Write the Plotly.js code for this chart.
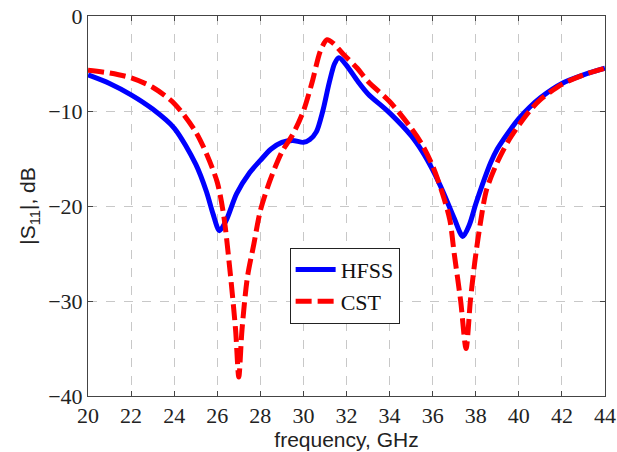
<!DOCTYPE html>
<html><head><meta charset="utf-8">
<script src="https://cdn.plot.ly/plotly-3.0.1.min.js"></script>
<style>html,body{margin:0;padding:0;background:#fff;}#chart{width:617px;height:452px;}</style>
</head><body><div id="chart"></div>
<script>
const hfssFreq = [20,21,22,23,24,25,25.5,25.8,26.1,26.4,26.9,27.5,28,28.5,29,29.5,30,30.3,30.6,30.9,31.2,31.45,31.65,32,32.5,33,34,35,35.5,36,36.5,37,37.4,37.7,38,38.3,38.7,39,39.5,40,40.5,41,42,43,44];
const hfssS11 = [-6.2,-7.1,-8.3,-9.8,-11.8,-15.6,-18.5,-20.8,-22.6,-21.6,-18.7,-16.5,-15.2,-14.0,-13.3,-13.1,-13.3,-13.0,-12.2,-10,-7,-5,-4.4,-5.2,-6.8,-8.2,-10.2,-12.6,-14.2,-16.2,-18.6,-21.3,-23.2,-22,-19.8,-17.8,-15.4,-14.0,-12.3,-10.8,-9.6,-8.6,-7.1,-6.2,-5.5];
const cstFreq = [20,21,22,23,24,25,25.5,26,26.3,26.6,26.85,27.0,27.15,27.4,27.7,28,28.45,29,29.5,30,30.4,30.8,31.1,31.4,31.8,32.5,33,34,35,35.5,36,36.5,36.8,37.0,37.3,37.55,37.75,37.95,38.2,38.5,39,39.5,40,40.5,41,42,43,44];
const cstS11 = [-5.7,-6.0,-6.5,-7.5,-9.2,-12.2,-14.5,-17.5,-21,-27,-33,-38,-33,-27.5,-24,-20.5,-17.3,-14.3,-12.5,-10,-7,-3.6,-2.5,-2.9,-3.9,-5.5,-6.9,-9,-11.8,-13.5,-15.8,-19,-21.5,-25,-30,-35,-30,-26,-22,-18.3,-15.4,-13.2,-11.5,-10,-8.8,-7.2,-6.2,-5.5];
const xTicks = [20,22,24,26,28,30,32,34,36,38,40,42,44];
const yTicks = [0,-10,-20,-30,-40];

const SERIF = 'Liberation Serif';
const SANS = 'Liberation Sans';

const traces = [
  {x: hfssFreq, y: hfssS11, name: 'HFSS', mode: 'lines',
   line: {color: '#0000ff', width: 5, shape: 'spline', smoothing: 0.8}},
  {x: cstFreq, y: cstS11, name: 'CST', mode: 'lines',
   line: {color: '#ff0000', width: 5, dash: '16px,6px', shape: 'spline', smoothing: 0.8}}
];
function axis(extra) {
  return Object.assign({
    showline: true, mirror: 'ticks', linecolor: '#444', linewidth: 1,
    ticks: 'inside', ticklen: 5, tickcolor: '#444',
    showgrid: true, gridcolor: '#c8c8c8', gridwidth: 1, griddash: 'dash',
    zeroline: false,
    tickfont: {family: SERIF, size: 22, color: '#222'}
  }, extra);
}
const layout = {
  width: 617, height: 452,
  font: {family: SERIF, size: 22, color: '#222'},
  margin: {l: 88, r: 12, t: 16, b: 56},
  paper_bgcolor: '#fff', plot_bgcolor: '#fff',
  showlegend: true,
  legend: {x: 0.39, y: 0.39, xanchor: 'left', yanchor: 'top',
    bordercolor: '#222', borderwidth: 1, bgcolor: '#fff',
    font: {family: SERIF, size: 22, color: '#111'},
    tracegroupgap: 0, itemwidth: 40},
  xaxis: axis({range: [20, 44], tickvals: xTicks,
    title: {text: 'frequency, GHz', standoff: 0, font: {family: SANS, size: 21, color: '#222'}}}),
  yaxis: axis({range: [-40, 0], tickvals: yTicks,
    title: {text: '|S<sub>11</sub>|, dB', standoff: 6, font: {family: SANS, size: 21, color: '#222'}}})
};
Plotly.newPlot('chart', traces, layout, {displayModeBar: false, staticPlot: true});
</script></body></html>
